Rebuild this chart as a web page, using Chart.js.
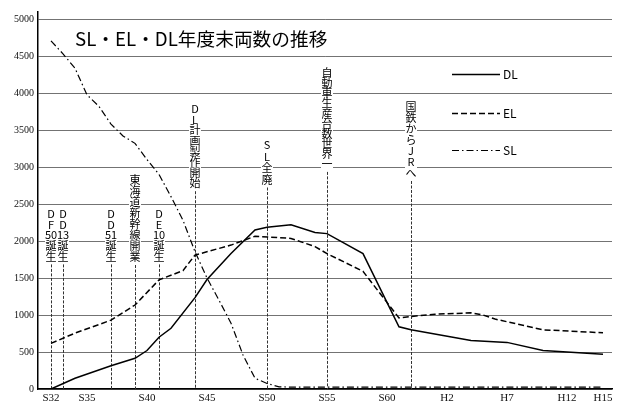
<!DOCTYPE html>
<html>
<head>
<meta charset="utf-8">
<script src="https://cdn.jsdelivr.net/npm/chart.js@4"></script>
<style>
  html, body { margin: 0; padding: 0; background: #fff; }
</style>
</head>
<body>
<canvas id="chart" width="618" height="405"></canvas>
<script>
// values (years are fiscal years, 1957 = S32)
const dlYears  = [1957, 1959, 1962, 1964, 1965, 1966, 1967, 1969, 1970, 1972, 1974, 1975, 1977, 1979, 1980, 1983, 1986, 1987, 1992, 1995, 1998, 2003];
const dlValues = [0, 145, 315, 415, 520, 700, 820, 1235, 1480, 1830, 2150, 2185, 2220, 2115, 2100, 1830, 840, 800, 655, 630, 520, 470];

const elYears  = [1957, 1959, 1962, 1964, 1966, 1968, 1969, 1972, 1974, 1977, 1979, 1980, 1983, 1986, 1987, 1989, 1992, 1993, 1994, 1998, 2003];
const elValues = [617, 755, 930, 1135, 1475, 1600, 1810, 1945, 2065, 2035, 1925, 1830, 1590, 960, 980, 1010, 1030, 1000, 945, 800, 760];

const slYears  = [1957, 1958, 1959, 1960, 1961, 1962, 1963, 1964, 1965, 1966, 1967, 1968, 1969, 1970, 1971, 1972, 1973, 1974, 1975, 1976, 1977, 2003];
const slValues = [4705, 4530, 4335, 3975, 3820, 3580, 3420, 3320, 3100, 2900, 2600, 2280, 1855, 1500, 1200, 890, 460, 145, 75, 30, 25, 25];

const xTickYears  = [1957, 1960, 1965, 1970, 1975, 1980, 1985, 1990, 1995, 2000, 2003];
const xTickLabels = ['S32', 'S35', 'S40', 'S45', 'S50', 'S55', 'S60', 'H2', 'H7', 'H12', 'H15'];
const yTicks = [0, 500, 1000, 1500, 2000, 2500, 3000, 3500, 4000, 4500, 5000];

// event markers: year + vertical text, split in the pieces stacked top to bottom
const eventYears = [1957, 1958, 1962, 1964, 1966, 1969, 1975, 1980, 1987];
const eventTexts = [
  ['D', 'F', '50', '誕', '生'],
  ['D', 'D', '13', '誕', '生'],
  ['D', 'D', '51', '誕', '生'],
  ['東', '海', '道', '新', '幹', '線', '開', '業'],
  ['D', 'E', '10', '誕', '生'],
  ['D', 'L', '計', '画', '製', '作', '開', '始'],
  ['S', 'L', '全', '廃'],
  ['自', '動', '車', '生', '産', '台', '数', '世', '界', '一'],
  ['国', '鉄', 'か', 'ら', 'J', 'R', 'へ']
];
// pixel layout of the marker texts (centre of first glyph, glyph step)
const eventTop  = [214, 214, 214, 180, 214, 109, 145, 73, 107];
const eventStep = [10.6, 10.6, 10.6, 11, 10.6, 10.6, 11.5, 10.1, 11];

const title = 'SL・EL・DL年度末両数の推移';

const serif = '"Liberation Serif", "DejaVu Serif", serif';
const jp = '"Noto Sans CJK JP", "Noto Sans", sans-serif';

function pts(xs, ys) {
  return xs.map((x, i) => ({ x: x, y: ys[i] }));
}

const eventsPlugin = {
  id: 'events',
  beforeDatasetsDraw(chart) {
    const ctx = chart.ctx;
    const xs = chart.scales.x;
    const bottom = chart.chartArea.bottom;
    ctx.save();
    // white boxes behind the marker texts break the grid lines, as in the print
    ctx.fillStyle = '#fff';
    eventYears.forEach((yr, i) => {
      const x = xs.getPixelForValue(yr);
      const n = eventTexts[i].length;
      ctx.fillRect(x - 6, eventTop[i] - 6, 12, (n - 1) * eventStep[i] + 12);
    });
    ctx.strokeStyle = '#333';
    ctx.lineWidth = 1;
    ctx.setLineDash([3, 1.5]);
    eventYears.forEach((yr, i) => {
      const x = Math.round(xs.getPixelForValue(yr)) + 0.5;
      const n = eventTexts[i].length;
      const y0 = eventTop[i] + (n - 1) * eventStep[i] + 8;
      ctx.beginPath();
      ctx.moveTo(x, y0);
      ctx.lineTo(x, bottom);
      ctx.stroke();
    });
    ctx.restore();
  },
  afterDraw(chart) {
    const ctx = chart.ctx;
    const xs = chart.scales.x;
    ctx.save();
    ctx.fillStyle = '#000';
    ctx.textAlign = 'center';
    ctx.textBaseline = 'middle';
    ctx.font = '11px ' + jp;
    eventYears.forEach((yr, i) => {
      const x = xs.getPixelForValue(yr);
      eventTexts[i].forEach((s, k) => {
        ctx.fillText(s, x, eventTop[i] + k * eventStep[i]);
      });
    });

    // title
    ctx.textAlign = 'left';
    ctx.textBaseline = 'alphabetic';
    ctx.font = '18.7px ' + jp;
    ctx.fillText(title, 75, 46);

    // legend
    ctx.font = '12px ' + jp;
    ctx.textBaseline = 'middle';
    const rows = [74, 113, 150];
    chart.data.datasets.forEach((ds, i) => {
      const y = rows[i] + 0.5;
      ctx.strokeStyle = ds.borderColor;
      ctx.lineWidth = ds.borderWidth;
      ctx.setLineDash(ds.borderDash || []);
      ctx.beginPath();
      ctx.moveTo(452, y);
      ctx.lineTo(500, y);
      ctx.stroke();
      ctx.fillText(ds.label, 503, y);
    });
    ctx.restore();
  }
};

new Chart(document.getElementById('chart'), {
  type: 'line',
  data: {
    datasets: [
      { label: 'DL', data: pts(dlYears, dlValues), borderColor: '#000', borderWidth: 1.5 },
      { label: 'EL', data: pts(elYears, elValues), borderColor: '#000', borderWidth: 1.5, borderDash: [6, 3] },
      { label: 'SL', data: pts(slYears, slValues), borderColor: '#000', borderWidth: 1.2, borderDash: [7, 3, 1.5, 3] }
    ]
  },
  options: {
    responsive: false,
    animation: false,
    devicePixelRatio: 1,
    layout: { padding: { top: 12, right: 6, left: 0, bottom: 0 } },
    elements: { point: { radius: 0 }, line: { tension: 0, fill: false } },
    plugins: { legend: { display: false }, tooltip: { enabled: false } },
    scales: {
      x: {
        type: 'linear',
        min: 1955.917,
        max: 2003.75,
        afterBuildTicks: ax => { ax.ticks = xTickYears.map(v => ({ value: v })); },
        afterFit: s => { s.height = 16; },
        ticks: {
          callback: (v, i) => xTickLabels[i],
          autoSkip: false,
          maxRotation: 0,
          padding: 3,
          color: '#111',
          font: { family: serif, size: 11 }
        },
        grid: { display: false, drawTicks: false },
        border: { color: '#000', width: 1.5 }
      },
      y: {
        min: 0,
        max: 5095,
        afterBuildTicks: ax => { ax.ticks = yTicks.map(v => ({ value: v })); },
        afterFit: s => { s.width = 38; },
        ticks: {
          callback: v => String(v),
          padding: 4,
          color: '#111',
          font: { family: serif, size: 10 }
        },
        grid: { color: 'rgba(0,0,0,0.55)', lineWidth: 1, drawTicks: false },
        border: { color: '#000', width: 1.5 }
      }
    }
  },
  plugins: [eventsPlugin]
});
</script>
</body>
</html>
